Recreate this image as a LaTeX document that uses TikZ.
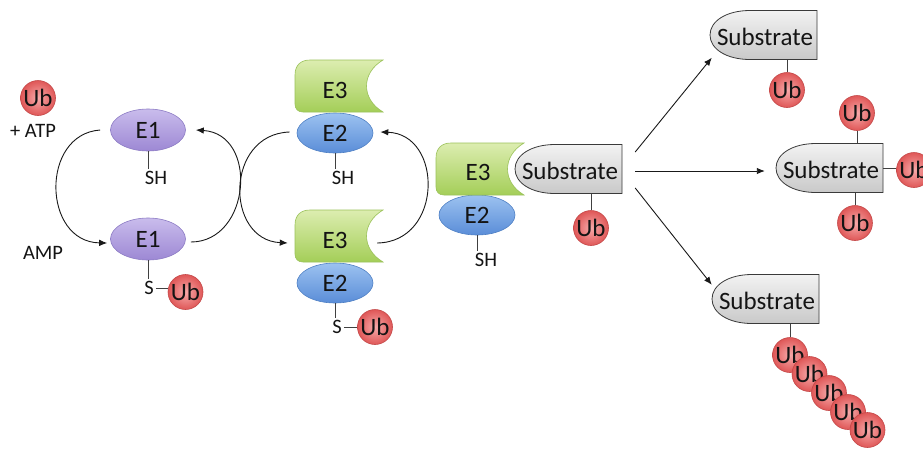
\documentclass[tikz,border=0pt]{standalone}
\usepackage{fontspec}
\setmainfont{Carlito}
\usetikzlibrary{shapes.geometric,arrows.meta}
\definecolor{eonetop}{HTML}{C9BCEC}
\definecolor{eonebot}{HTML}{9D88D4}
\definecolor{eoneline}{HTML}{8C7BC4}
\definecolor{etwotop}{HTML}{9CC2F0}
\definecolor{etwobot}{HTML}{5A8DD8}
\definecolor{etwoline}{HTML}{4F80C4}
\definecolor{ethreetop}{HTML}{DCEDB0}
\definecolor{ethreebot}{HTML}{A4CE58}
\definecolor{ethreeline}{HTML}{9BC25A}
\definecolor{ubin}{HTML}{F7AAAA}
\definecolor{ubout}{HTML}{DF5757}
\definecolor{ubline}{HTML}{C44848}
\definecolor{subtop}{HTML}{F2F2F2}
\definecolor{subbot}{HTML}{C9C9C9}
\definecolor{subline}{HTML}{3A3A3A}
\tikzset{
  big/.style={font=\fontsize{25}{28}\selectfont, text=black!92},
  small/.style={font=\fontsize{20.5}{23}\selectfont, text=black!92, inner sep=2pt},
  ub/.style={circle, minimum size=35pt, inner sep=0pt, draw=ubline, line width=0.6pt, inner color=ubin, outer color=ubout, big},
  eone/.style={ellipse, minimum width=75pt, minimum height=42pt, inner sep=0pt, draw=eoneline, line width=0.6pt, top color=eonetop, bottom color=eonebot, big},
  etwo/.style={ellipse, minimum width=76pt, minimum height=40pt, inner sep=0pt, draw=etwoline, line width=0.6pt, top color=etwotop, bottom color=etwobot, big},
  e3box/.style={rectangle, minimum width=88pt, minimum height=52pt, inner sep=0pt},
  subbox/.style={rectangle, minimum width=107pt, minimum height=49pt, inner sep=0pt},
  link/.style={draw=black!75, line width=0.8pt},
  arr/.style={draw=black!90, line width=0.9pt, -{Latex[length=8pt,width=6.5pt]}},
  e3shape/.pic={\path[draw=ethreeline, line width=0.6pt, top color=ethreetop, bottom color=ethreebot]
    (-29,-26) -- (44,-26) .. controls (22,-13) and (22,13) .. (44,26) -- (-36,26)
    .. controls (-41,26) and (-44,23) .. (-44,18) -- (-44,-11)
    .. controls (-44,-21) and (-38,-26) .. (-29,-26) -- cycle;},
  subshape/.pic={\path[draw=subline, line width=0.8pt, top color=subtop, bottom color=subbot]
    (-13.5,24.5) .. controls (-37,24.5) and (-53.5,14) .. (-53.5,0)
    .. controls (-53.5,-14) and (-37,-24.5) .. (-13.5,-24.5) -- (53.5,-24.5) -- (53.5,24.5) -- cycle;}
}
\begin{document}
\begin{tikzpicture}[x=1pt,y=-1pt]
\clip (0,0) rectangle (923,448);
\fill[white] (0,0) rectangle (923,448);

% ---------- E1 cycle ----------
\node[eone] (e1a) at (148,130) {E1};
\node[eone] (e1b) at (148,239) {E1};
\node[ub] (ub0) at (38,98) {Ub};
\node[small] (atp) at (33,131) {+ ATP};
\node[small] (amp) at (43,253) {AMP};
\node[small] (sh1) at (156,178) {SH};
\draw[link] (e1a.south) -- (e1a.south |- sh1.north);
\node[small] (s1) at (149,288) {S};
\node[ub] (ub1) at (185.5,292) {Ub};
\draw[link] (e1b.south) -- (e1b.south |- s1.north);
\draw[link] (s1.east) -- (s1.east -| ub1.west);

% ---------- E2/E3 cycle ----------
\node[etwo] (e2a) at (335,133) {E2};
\node[e3box] (e3a) at (339,86) {};
\pic at (e3a) {e3shape};
\node[big] (e3a-l) at (335,90) {E3};
\node[small] (sh2) at (343,178) {SH};
\draw[link] (e2a.south) -- (e2a.south |- sh2.north);

\node[etwo] (e2b) at (335,283) {E2};
\node[e3box] (e3b) at (339,236) {};
\pic at (e3b) {e3shape};
\node[big] (e3b-l) at (335,240) {E3};
\node[small] (s2) at (337,327) {S};
\node[ub] (ub2) at (375,327) {Ub};
\draw[link] (e2b.south) -- (e2b.south |- s2.north);
\draw[link] (s2.east) -- (s2.east -| ub2.west);

% ---------- cycle arrows ----------
\draw[arr] ([shift={(-10,0)}]e1a.west) .. controls +(-60,4) and +(-65,-1) .. ([shift={(-3,4)}]e1b.west);
\draw[arr] ([shift={(5,3)}]e1b.east) .. controls +(60,0) and +(63,4) .. ([shift={(10,0)}]e1a.east);
\draw[arr] ([shift={(-7,-1)}]e2a.west) .. controls +(-65,2) and +(-63,-3) .. ([shift={(-7,7)}]e3b.west);
\draw[arr] ([shift={(-6,7)}]e3b.east) .. controls +(66,-1) and +(63,2) .. ([shift={(7,-1)}]e2a.east);

% ---------- middle complex ----------
\node[etwo] (e2c) at (477,215) {E2};
\node[e3box, minimum height=55pt] (e3c) at (480,169) {};
\pic at (e3c) {e3shape};
\node[big] (e3c-l) at (478,172) {E3};
\node[small] (sh3) at (486,260) {SH};
\draw[link] (e2c.south) -- (e2c.south |- sh3.north);
\node[subbox] (sub0) at (568.5,169) {};
\pic at (sub0) {subshape};
\node[big] (sub0-l) at (570,171) {Substrate};
\node[ub] (ub3) at (591,228) {Ub};
\draw[link] (sub0.south -| ub3) -- (ub3.north);

% ---------- products ----------
\node[subbox] (sub1) at (763.5,35) {};
\pic at (sub1) {subshape};
\node[big] (sub1-l) at (765,37) {Substrate};
\node[ub] (ub4) at (787,90) {Ub};
\draw[link] (sub1.south -| ub4) -- (ub4.north);

\node[subbox] (sub2) at (829.5,168) {};
\pic at (sub2) {subshape};
\node[big] (sub2-l) at (831,170) {Substrate};
\node[ub] (ub5) at (857,113) {Ub};
\node[ub] (ub6) at (914,170) {Ub};
\node[ub] (ub7) at (855,223) {Ub};
\draw[link] (ub5.south) -- (ub5.south |- sub2.north);
\draw[link] (sub2.east) -- (sub2.east -| ub6.west);
\draw[link] (sub2.south -| ub7) -- (ub7.north);

\node[subbox] (sub3) at (765.5,299) {};
\pic at (sub3) {subshape};
\node[big] (sub3-l) at (767,301) {Substrate};
\node[ub] (ub8) at (790,355) {Ub};
\draw[link] (sub3.south -| ub8) -- (ub8.north);
\node[ub] (ub9) at (809.5,374) {Ub};
\node[ub] (ub10) at (829,393) {Ub};
\node[ub] (ub11) at (848,412) {Ub};
\node[ub] (ub12) at (867.5,430) {Ub};

% ---------- branching arrows ----------
\draw[arr] ([shift={(13,-17)}]sub0.east) -- ([shift={(2,-2)}]sub1.south west);
\draw[arr] ([shift={(13,2)}]sub0.east) -- ([shift={(-11,3)}]sub2.west);
\draw[arr] ([shift={(13,19)}]sub0.east) -- ([shift={(0,10.5)}]sub3.north west);
\end{tikzpicture}
\end{document}
